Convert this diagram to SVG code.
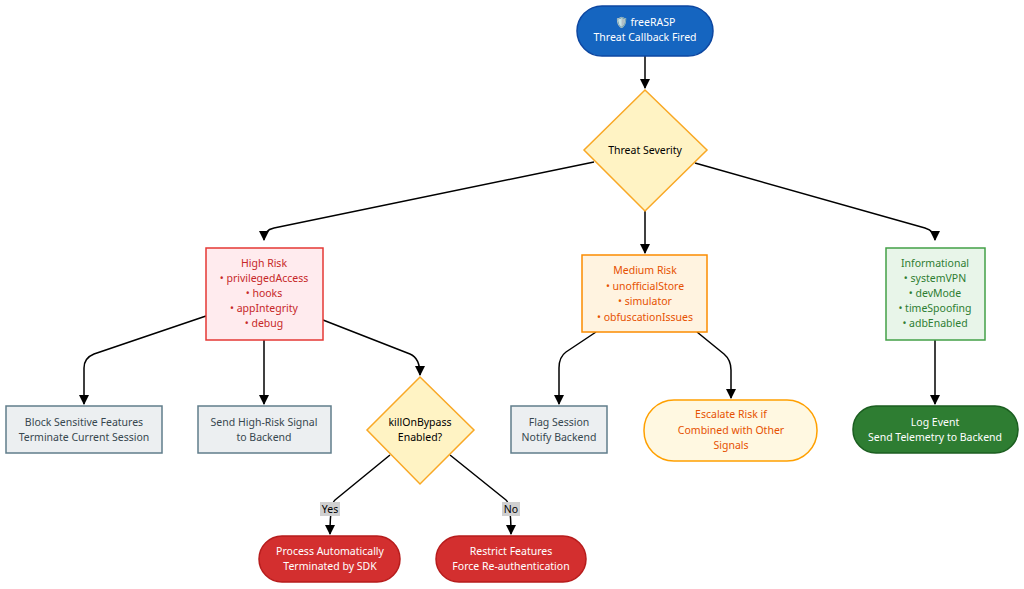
<svg xmlns="http://www.w3.org/2000/svg" width="1024" height="589" viewBox="0 0 1024 589">
<defs>
<marker id="ah" viewBox="0 0 10 10" refX="9" refY="5" markerWidth="7" markerHeight="7" orient="auto"><path d="M0,0 L10,5 L0,10 z" fill="#000"/></marker>
<style>
text{font-family:"Noto Sans","DejaVu Sans",sans-serif;font-size:10.5px;text-anchor:middle}
.e{fill:none;stroke:#000;stroke-width:1.5;marker-end:url(#ah)}
.dia{fill:#fff3c4;stroke:#f9a825;stroke-width:1.5}
.grey{fill:#eceff1;stroke:#607d8b;stroke-width:1.5}
.gt{fill:#37474f}
</style>
</defs>
<rect width="1024" height="589" fill="#fff"/>
<g id="edges">
<path class="e" d="M645,56 V88"/>
<path class="e" d="M594,162 L274,228 Q264,230 264,240"/>
<path class="e" d="M645,211 V253"/>
<path class="e" d="M695,163 L925,228 Q935,231 935,240"/>
<path class="e" d="M206,316 L94,354 Q84,358 84,368 V404"/>
<path class="e" d="M264,340 V404"/>
<path class="e" d="M323,320 L410,354 Q420,358 420,375"/>
<path class="e" d="M390,455 L335,500 Q330,504 330,534"/>
<path class="e" d="M450,455 L506,500 Q511,504 511,534"/>
<path class="e" d="M596,332 L566,352 Q559,357 559,368 V404"/>
<path class="e" d="M697,332 L724,354 Q731,360 731,370 V398"/>
<path class="e" d="M935,340 V404"/>
<rect x="320" y="502" width="20" height="14" fill="#d0d0d0"/><text x="330" y="513">Yes</text>
<rect x="502" y="502" width="18" height="14" fill="#d0d0d0"/><text x="511" y="513">No</text>
</g>
<g id="start"><rect x="577" y="6" width="136" height="50" rx="25" fill="#1565c0" stroke="#0d47a1" stroke-width="1.5"/><text x="645" y="26" fill="#fff">🛡️ freeRASP</text><text x="645" y="41" fill="#fff">Threat Callback Fired</text></g>
<g id="severity"><polygon class="dia" points="645,90 707,150 645,211 584,150"/><text x="645" y="154" fill="#000">Threat Severity</text></g>
<g id="high"><rect x="206" y="248" width="117" height="92" fill="#ffebee" stroke="#e53935" stroke-width="1.5"/>
<g fill="#c62828"><text x="264" y="267">High Risk</text><text x="264" y="282">• privilegedAccess</text><text x="264" y="297">• hooks</text><text x="264" y="312">• appIntegrity</text><text x="264" y="327">• debug</text></g></g>
<g id="medium"><rect x="582" y="255" width="125" height="77" fill="#fff3e0" stroke="#fb8c00" stroke-width="1.5"/>
<g fill="#e65100"><text x="645" y="274">Medium Risk</text><text x="645" y="290">• unofficialStore</text><text x="645" y="305">• simulator</text><text x="645" y="321">• obfuscationIssues</text></g></g>
<g id="info"><rect x="886" y="248" width="99" height="92" fill="#e8f5e9" stroke="#43a047" stroke-width="1.5"/>
<g fill="#2e7d32"><text x="935" y="267">Informational</text><text x="935" y="282">• systemVPN</text><text x="935" y="297">• devMode</text><text x="935" y="312">• timeSpoofing</text><text x="935" y="327">• adbEnabled</text></g></g>
<g id="block"><rect class="grey" x="6" y="406" width="156" height="47"/><text class="gt" x="84" y="426">Block Sensitive Features</text><text class="gt" x="84" y="441">Terminate Current Session</text></g>
<g id="send"><rect class="grey" x="198" y="406" width="133" height="47"/><text class="gt" x="264" y="426">Send High-Risk Signal</text><text class="gt" x="264" y="441">to Backend</text></g>
<g id="kill"><polygon class="dia" points="420,377 474,430 420,484 367,430"/><text x="420" y="426" fill="#000">killOnBypass</text><text x="420" y="441" fill="#000">Enabled?</text></g>
<g id="flag"><rect class="grey" x="511" y="406" width="96" height="47"/><text class="gt" x="559" y="426">Flag Session</text><text class="gt" x="559" y="441">Notify Backend</text></g>
<g id="escalate"><rect x="644" y="400" width="173" height="61" rx="30" fill="#fff8e1" stroke="#ffa000" stroke-width="1.5"/>
<g fill="#e65100"><text x="731" y="418">Escalate Risk if</text><text x="731" y="434">Combined with Other</text><text x="731" y="449">Signals</text></g></g>
<g id="log"><rect x="853" y="406" width="165" height="47" rx="23" fill="#2e7d32" stroke="#1b5e20" stroke-width="1.5"/><text x="935" y="426" fill="#fff">Log Event</text><text x="935" y="441" fill="#fff">Send Telemetry to Backend</text></g>
<g id="process"><rect x="259" y="536" width="141" height="46" rx="23" fill="#d32f2f" stroke="#b71c1c" stroke-width="1.5"/><text x="330" y="555" fill="#fff">Process Automatically</text><text x="330" y="570" fill="#fff">Terminated by SDK</text></g>
<g id="restrict"><rect x="436" y="536" width="150" height="46" rx="23" fill="#d32f2f" stroke="#b71c1c" stroke-width="1.5"/><text x="511" y="555" fill="#fff">Restrict Features</text><text x="511" y="570" fill="#fff">Force Re-authentication</text></g>
</svg>
